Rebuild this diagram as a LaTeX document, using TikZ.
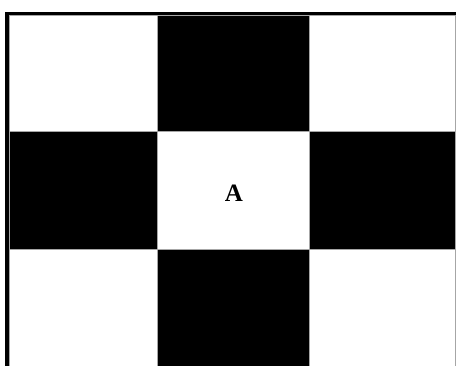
\documentclass[tikz,border=0pt]{standalone}
\usepackage{fontspec}
\setmainfont{Liberation Serif}
\begin{document}
\begin{tikzpicture}[x=1pt,y=-1pt,
  blackcell/.style={fill=black,draw=gray!70,line width=0.8pt},
  whitecell/.style={fill=white,draw=gray!70,line width=0.8pt},
  frameline/.style={line width=3.2pt,black}]
\useasboundingbox (0,0) rectangle (457,365);
\fill[white] (0,0) rectangle (457,365);
% cells: columns 9.5,157.5,309,455.5 ; rows 15,131,249.5,365+
\draw[whitecell] (9.5,15) rectangle (157.5,131);
\draw[blackcell] (157.5,15) rectangle (309,131);
\draw[whitecell] (309,15) rectangle (455.5,131);
\draw[blackcell] (9.5,131) rectangle (157.5,249.5);
\draw[whitecell] (157.5,131) rectangle (309,249.5);
\draw[blackcell] (309,131) rectangle (455.5,249.5);
\draw[whitecell] (9.5,249.5) rectangle (157.5,370);
\draw[blackcell] (157.5,249.5) rectangle (309,370);
\draw[whitecell] (309,249.5) rectangle (455.5,370);
\node (A) at (234,193) {\fontsize{25}{28}\selectfont\textbf{A}};
% outer frame
\draw[frameline] (7,370) -- (7,13.5) -- (456,13.5);
\end{tikzpicture}
\end{document}
